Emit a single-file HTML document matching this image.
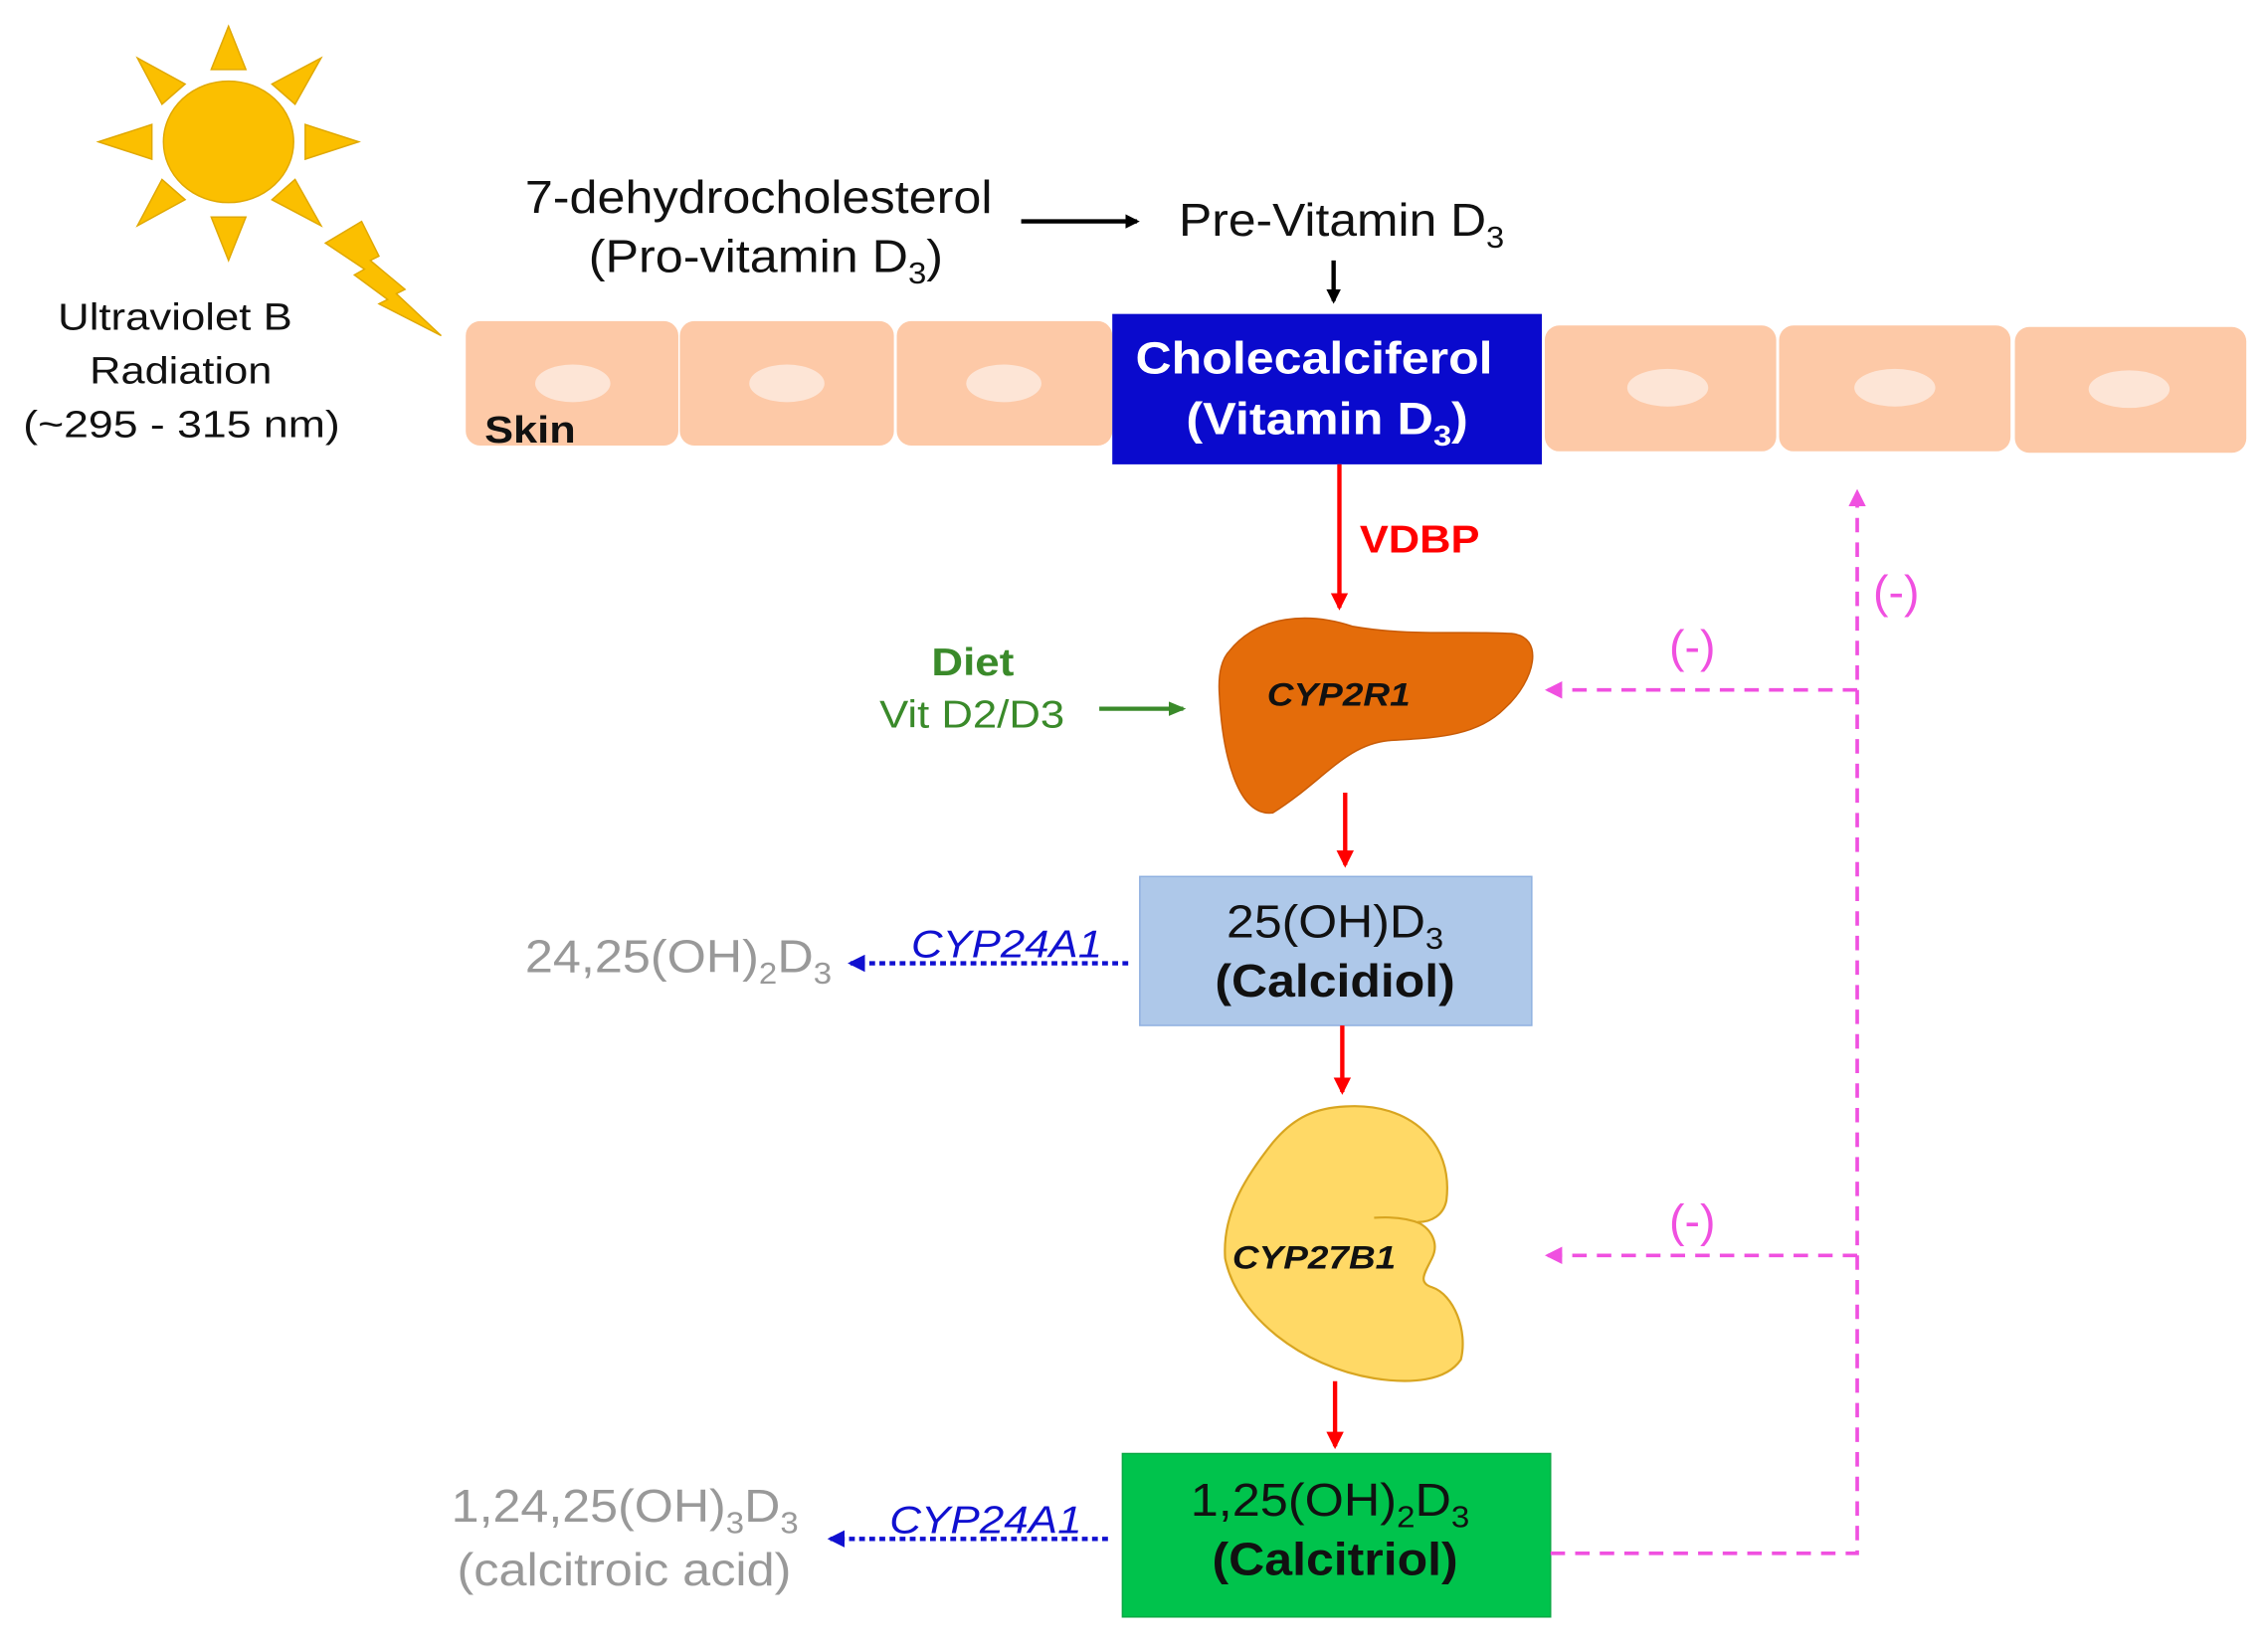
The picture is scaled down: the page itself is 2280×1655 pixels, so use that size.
<!DOCTYPE html>
<html><head><meta charset="utf-8"><style>html,body{margin:0;padding:0;background:#fff}svg{display:block}</style></head>
<body>
<svg width="2280" height="1655" viewBox="0 0 1568 1138" xmlns="http://www.w3.org/2000/svg" font-family="Liberation Sans, sans-serif">
<defs>
<marker id="ab" markerWidth="10" markerHeight="10" refX="8" refY="5" orient="auto" markerUnits="userSpaceOnUse"><path d="M0,0 L10,5 L0,10 z" fill="#000"/></marker>
<marker id="ar" markerWidth="12" markerHeight="12" refX="10" refY="6" orient="auto" markerUnits="userSpaceOnUse"><path d="M0,0 L12,6 L0,12 z" fill="#f00"/></marker>
<marker id="ag" markerWidth="12" markerHeight="10" refX="10" refY="5" orient="auto" markerUnits="userSpaceOnUse"><path d="M0,0 L12,5 L0,10 z" fill="#3a8a2a"/></marker>
<marker id="au" markerWidth="12" markerHeight="12" refX="10" refY="6" orient="auto" markerUnits="userSpaceOnUse"><path d="M0,0 L12,6 L0,12 z" fill="#1010d0"/></marker>
<marker id="ap" markerWidth="12" markerHeight="12" refX="10" refY="6" orient="auto" markerUnits="userSpaceOnUse"><path d="M0,0 L12,6 L0,12 z" fill="#f050e0"/></marker>
</defs>
<g fill="#fbbf00" stroke="#e0a800" stroke-width="1">
<ellipse cx="158" cy="98" rx="45" ry="42"/>
<polygon points="158,18 146,48 170,48"/>
<polygon points="158,180 146,150 170,150"/>
<polygon points="68,98 105,86 105,110"/>
<polygon points="248,98 211,86 211,110"/>
<polygon points="95,40 128,58 112,72"/>
<polygon points="222,40 188,58 204,72"/>
<polygon points="95,156 128,138 112,124"/>
<polygon points="222,156 188,138 204,124"/>
<polygon points="225,168 250,153 262,177 256,180 280,200 274,203 305,232 262,210 268,207 245,190 252,186"/>
</g>
<g font-size="26" fill="#111" lengthAdjust="spacingAndGlyphs">
<text x="40" y="228" textLength="162" lengthAdjust="spacingAndGlyphs">Ultraviolet B</text>
<text x="62" y="265" textLength="126" lengthAdjust="spacingAndGlyphs">Radiation</text>
<text x="16" y="302" textLength="219" lengthAdjust="spacingAndGlyphs">(~295 - 315 nm)</text>
</g>
<g font-size="32" fill="#111">
<text x="363" y="147" textLength="323" lengthAdjust="spacingAndGlyphs">7-dehydrocholesterol</text>
<text x="407" y="188" textLength="245" lengthAdjust="spacingAndGlyphs">(Pro-vitamin D<tspan font-size="21" dy="8">3</tspan><tspan dy="-8">)</tspan></text>
</g>
<line x1="706" y1="153" x2="786" y2="153" stroke="#000" stroke-width="3" marker-end="url(#ab)"/>
<text x="815" y="163" font-size="32" fill="#111" textLength="225" lengthAdjust="spacingAndGlyphs">Pre-Vitamin D<tspan font-size="21" dy="8">3</tspan></text>
<line x1="922" y1="180" x2="922" y2="208" stroke="#000" stroke-width="3" marker-end="url(#ab)"/>
<g fill="#fdc9a7">
<rect x="322" y="222" width="147" height="86" rx="10"/>
<rect x="470" y="222" width="148" height="86" rx="10"/>
<rect x="620" y="222" width="149" height="86" rx="10"/>
<rect x="1068" y="225" width="160" height="87" rx="10"/>
<rect x="1230" y="225" width="160" height="87" rx="10"/>
<rect x="1393" y="226" width="160" height="87" rx="10"/>
</g>
<g fill="#fde5d6">
<ellipse cx="396" cy="265" rx="26" ry="13"/>
<ellipse cx="544" cy="265" rx="26" ry="13"/>
<ellipse cx="694" cy="265" rx="26" ry="13"/>
<ellipse cx="1153" cy="268" rx="28" ry="13"/>
<ellipse cx="1310" cy="268" rx="28" ry="13"/>
<ellipse cx="1472" cy="269" rx="28" ry="13"/>
</g>
<text x="335" y="306" font-size="26" font-weight="bold" fill="#111" textLength="63" lengthAdjust="spacingAndGlyphs">Skin</text>
<rect x="769" y="217" width="297" height="104" fill="#0a0acd"/>
<g font-size="31" font-weight="bold" fill="#fff">
<text x="785" y="258" textLength="247" lengthAdjust="spacingAndGlyphs">Cholecalciferol</text>
<text x="820" y="300" textLength="195" lengthAdjust="spacingAndGlyphs">(Vitamin D<tspan font-size="20" dy="8">3</tspan><tspan dy="-8">)</tspan></text>
</g>
<line x1="926" y1="321" x2="926" y2="420" stroke="#f00" stroke-width="3" marker-end="url(#ar)"/>
<text x="940" y="382" font-size="27" font-weight="bold" fill="#f00" textLength="83" lengthAdjust="spacingAndGlyphs">VDBP</text>
<path d="M850,450 C870,425 905,423 935,433 C975,440 1010,436 1045,438 C1068,440 1062,470 1040,490 C1020,510 990,510 960,512 C930,515 915,540 880,562 C855,565 845,520 843,480 C842,465 845,455 850,450 Z" fill="#e46c0a" stroke="#c85a05"/>
<text x="876" y="488" font-size="22" font-weight="bold" font-style="italic" fill="#111" textLength="99" lengthAdjust="spacingAndGlyphs">CYP2R1</text>
<text x="644" y="467" font-size="27" font-weight="bold" fill="#3a8a2a" textLength="57" lengthAdjust="spacingAndGlyphs">Diet</text>
<text x="608" y="503" font-size="27" fill="#3a8a2a" textLength="128" lengthAdjust="spacingAndGlyphs">Vit D2/D3</text>
<line x1="760" y1="490" x2="818" y2="490" stroke="#3a8a2a" stroke-width="3" marker-end="url(#ag)"/>
<line x1="930" y1="548" x2="930" y2="598" stroke="#f00" stroke-width="3" marker-end="url(#ar)"/>
<rect x="788" y="606" width="271" height="103" fill="#aec8e9" stroke="#8fb0e0"/>
<text x="848" y="648" font-size="32" fill="#111" textLength="150" lengthAdjust="spacingAndGlyphs">25(OH)D<tspan font-size="21" dy="8">3</tspan></text>
<text x="840" y="689" font-size="32" font-weight="bold" fill="#111" textLength="166" lengthAdjust="spacingAndGlyphs">(Calcidiol)</text>
<line x1="780" y1="666" x2="588" y2="666" stroke="#1010d0" stroke-width="3" stroke-dasharray="4,3" marker-end="url(#au)"/>
<text x="630" y="662" font-size="27" font-style="italic" fill="#1010d0" textLength="132" lengthAdjust="spacingAndGlyphs">CYP24A1</text>
<text x="363" y="672" font-size="32" fill="#999" textLength="212" lengthAdjust="spacingAndGlyphs">24,25(OH)<tspan font-size="21" dy="8">2</tspan><tspan dy="-8">D</tspan><tspan font-size="21" dy="8">3</tspan></text>
<line x1="928" y1="709" x2="928" y2="755" stroke="#f00" stroke-width="3" marker-end="url(#ar)"/>
<path d="M930,765 C975,762 1005,790 1000,830 C998,840 990,845 980,845 C990,850 995,860 990,870 C985,880 980,887 990,890 C1005,895 1015,920 1010,940 C1000,955 975,957 950,953 C900,945 855,910 847,870 C845,840 860,815 880,790 C895,772 910,766 930,765 Z" fill="#ffd966" stroke="#d8a520" stroke-width="1.5"/>
<path d="M950,842 C965,841 975,843 982,846" fill="none" stroke="#d8a520" stroke-width="1.5"/>
<text x="852" y="877" font-size="22" font-weight="bold" font-style="italic" fill="#111" textLength="113" lengthAdjust="spacingAndGlyphs">CYP27B1</text>
<line x1="923" y1="955" x2="923" y2="1000" stroke="#f00" stroke-width="3" marker-end="url(#ar)"/>
<rect x="776" y="1005" width="296" height="113" fill="#00c34c" stroke="#0aa844"/>
<text x="823" y="1048" font-size="32" fill="#111" textLength="193" lengthAdjust="spacingAndGlyphs">1,25(OH)<tspan font-size="21" dy="8">2</tspan><tspan dy="-8">D</tspan><tspan font-size="21" dy="8">3</tspan></text>
<text x="838" y="1089" font-size="32" font-weight="bold" fill="#111" textLength="170" lengthAdjust="spacingAndGlyphs">(Calcitriol)</text>
<line x1="766" y1="1064" x2="574" y2="1064" stroke="#1010d0" stroke-width="3" stroke-dasharray="4,3" marker-end="url(#au)"/>
<text x="615" y="1060" font-size="27" font-style="italic" fill="#1010d0" textLength="133" lengthAdjust="spacingAndGlyphs">CYP24A1</text>
<text x="312" y="1052" font-size="32" fill="#999" textLength="240" lengthAdjust="spacingAndGlyphs">1,24,25(OH)<tspan font-size="21" dy="8">3</tspan><tspan dy="-8">D</tspan><tspan font-size="21" dy="8">3</tspan></text>
<text x="316" y="1096" font-size="32" fill="#999" textLength="231" lengthAdjust="spacingAndGlyphs">(calcitroic acid)</text>
<g stroke="#f050e0" stroke-width="2.5" stroke-dasharray="10,7" fill="none">
<polyline points="1072,1074 1284,1074 1284,340" marker-end="url(#ap)"/>
<line x1="1284" y1="477" x2="1070" y2="477" marker-end="url(#ap)"/>
<line x1="1284" y1="868" x2="1070" y2="868" marker-end="url(#ap)"/>
</g>
<g font-size="32" fill="#f050e0" text-anchor="middle">
<text x="1311" y="420">(-)</text>
<text x="1170" y="458">(-)</text>
<text x="1170" y="855">(-)</text>
</g>
</svg>
</body></html>
